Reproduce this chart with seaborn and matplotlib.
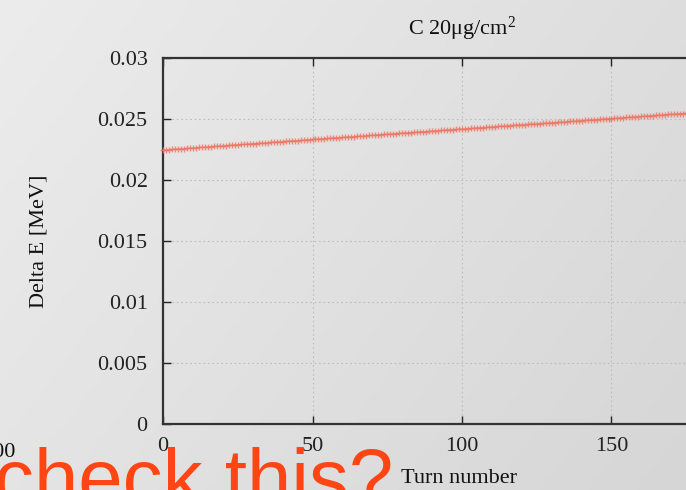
import numpy as np
import pandas as pd
import matplotlib
matplotlib.use("Agg")
import matplotlib.pyplot as plt
import seaborn as sns

# ---- data ----
turns = list(range(0, 180))
delta_e = [
    0.02246, 0.02248, 0.02249, 0.02251, 0.02253, 0.02255, 0.02256, 0.02258, 0.02260, 0.02261,
    0.02263, 0.02265, 0.02267, 0.02268, 0.02270, 0.02272, 0.02274, 0.02275, 0.02277, 0.02279,
    0.02280, 0.02282, 0.02284, 0.02286, 0.02287, 0.02289, 0.02291, 0.02292, 0.02294, 0.02296,
    0.02298, 0.02299, 0.02301, 0.02303, 0.02304, 0.02306, 0.02308, 0.02310, 0.02311, 0.02313,
    0.02315, 0.02317, 0.02318, 0.02320, 0.02322, 0.02323, 0.02325, 0.02327, 0.02329, 0.02330,
    0.02332, 0.02334, 0.02335, 0.02337, 0.02339, 0.02341, 0.02342, 0.02344, 0.02346, 0.02347,
    0.02349, 0.02351, 0.02353, 0.02354, 0.02356, 0.02358, 0.02360, 0.02361, 0.02363, 0.02365,
    0.02366, 0.02368, 0.02370, 0.02372, 0.02373, 0.02375, 0.02377, 0.02378, 0.02380, 0.02382,
    0.02384, 0.02385, 0.02387, 0.02389, 0.02390, 0.02392, 0.02394, 0.02396, 0.02397, 0.02399,
    0.02401, 0.02403, 0.02404, 0.02406, 0.02408, 0.02409, 0.02411, 0.02413, 0.02415, 0.02416,
    0.02418, 0.02420, 0.02421, 0.02423, 0.02425, 0.02427, 0.02428, 0.02430, 0.02432, 0.02433,
    0.02435, 0.02437, 0.02439, 0.02440, 0.02442, 0.02444, 0.02446, 0.02447, 0.02449, 0.02451,
    0.02452, 0.02454, 0.02456, 0.02458, 0.02459, 0.02461, 0.02463, 0.02464, 0.02466, 0.02468,
    0.02470, 0.02471, 0.02473, 0.02475, 0.02476, 0.02478, 0.02480, 0.02482, 0.02483, 0.02485,
    0.02487, 0.02489, 0.02490, 0.02492, 0.02494, 0.02495, 0.02497, 0.02499, 0.02501, 0.02502,
    0.02504, 0.02506, 0.02507, 0.02509, 0.02511, 0.02513, 0.02514, 0.02516, 0.02518, 0.02519,
    0.02521, 0.02523, 0.02525, 0.02526, 0.02528, 0.02530, 0.02532, 0.02533, 0.02535, 0.02537,
    0.02538, 0.02540, 0.02542, 0.02544, 0.02545, 0.02547, 0.02549, 0.02550, 0.02552, 0.02554,
]
x_ticks = [0, 50, 100, 150, 200]
y_ticks = [0, 0.005, 0.01, 0.015, 0.02, 0.025, 0.03]
y_tick_labels = ["0", "0.005", "0.01", "0.015", "0.02", "0.025", "0.03"]
title_text = "C 20\u03bcg/cm$^{2}$"
x_label = "Turn number"
y_label = "Delta E [MeV]"
overlay_text = "check this?"
left_fragment = "100"

df = pd.DataFrame({"turn": turns, "delta_e": delta_e})

sns.set_theme(style="ticks")
plt.rcParams["font.family"] = ["Liberation Serif", "DejaVu Serif"]
plt.rcParams["mathtext.fontset"] = "custom"
plt.rcParams["mathtext.rm"] = "Liberation Serif"
plt.rcParams["mathtext.it"] = "Liberation Serif:italic"
plt.rcParams["mathtext.default"] = "rm"

W, H = 686, 490
fig = plt.figure(figsize=(W / 100, H / 100), dpi=100)

# slide background gradient (decoration)
bg = fig.add_axes([0, 0, 1, 1], zorder=-10)
gx = np.linspace(0, 1, 200)[None, :]
gy = np.linspace(0, 1, 140)[:, None]
shade = 236 - 22 * (0.65 * gx + 0.35 * gy)
bg.imshow(np.dstack([shade, shade, shade]) / 255.0, aspect="auto",
          extent=[0, 1, 0, 1], origin="upper")
bg.set_axis_off()

ax = fig.add_axes([163 / W, 66 / H, 598 / W, 366 / H])
ax.set_facecolor("none")

line_color = "#EE7563"
sns.lineplot(data=df, x="turn", y="delta_e", ax=ax, color=line_color,
             marker="+", markersize=5, markeredgewidth=1.0,
             markeredgecolor=line_color, markerfacecolor=line_color,
             linewidth=0.8, alpha=0.8, clip_on=False, zorder=5)

ax.set_xlim(0, 200)
ax.set_ylim(0, 0.03)
ax.set_xticks(x_ticks)
ax.set_yticks(y_ticks)
ax.set_yticklabels(y_tick_labels)
ax.tick_params(axis="both", direction="in", length=6, width=1.0,
               labelsize=16, colors="#222222", top=True, right=True)
ax.tick_params(axis="y", pad=11)
ax.tick_params(axis="x", pad=9)
ax.grid(True, color="#BDBDBD", linestyle=(0, (1.5, 2.5)), linewidth=0.8)
for s in ax.spines.values():
    s.set_linewidth(1.6)
    s.set_color("#333333")

ax.set_title(title_text, fontsize=16, pad=17, color="#111111")
ax.set_xlabel(x_label, fontsize=16, color="#111111")
ax.xaxis.set_label_coords((459 - 163) / 598, -0.123)
ax.set_ylabel(y_label, fontsize=16, color="#111111")
ax.yaxis.set_label_coords(-0.192, 0.5)

# slide decorations
fig.text(15 / W, (H - 457) / H, left_fragment, fontsize=16, ha="right",
         va="baseline", color="#111111")
fig.text(-6 / W, (H - 505) / H, overlay_text, fontsize=57.5, ha="left",
         va="baseline", color="#FF4514",
         family=["Liberation Sans", "DejaVu Sans"], zorder=20)

fig.savefig("out.png", dpi=100)
